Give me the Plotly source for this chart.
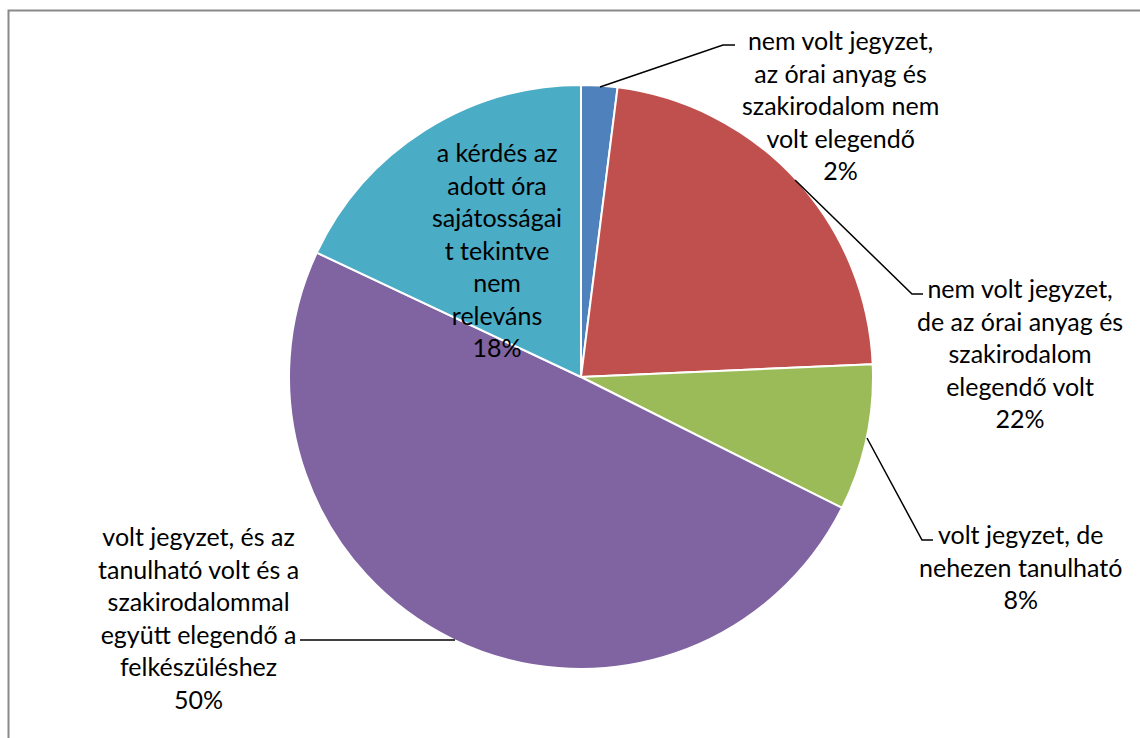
import plotly.graph_objects as go

W, H = 1140, 738

# Data
categories = [
    "nem volt jegyzet,<br>az órai anyag és<br>szakirodalom nem<br>volt elegendő",
    "nem volt jegyzet,<br>de az órai anyag és<br>szakirodalom<br>elegendő volt",
    "volt jegyzet, de<br>nehezen tanulható",
    "volt jegyzet, és az<br>tanulható volt és a<br>szakirodalommal<br>együtt elegendő a<br>felkészüléshez",
    "a kérdés az<br>adott óra<br>sajátosságai<br>t tekintve<br>nem<br>releváns",
]
values = [2.0, 22.3, 8.1, 49.6, 18.0]
colors = ["#4F81BD", "#C0504D", "#9BBB59", "#8064A2", "#4BACC6"]

# Label placement (pixel centers) and leader lines (pixel polylines)
label_pos = [(840, 105), (1020, 353), (1020, 566), (198, 617), (497, 250)]
leaders = [
    [(600, 87), (723, 45), (735, 45)],
    [(795, 180), (912, 294), (923, 294)],
    [(867, 438), (922, 540), (933, 540)],
    [(455, 640), (300, 640)],
    None,
]

cx, cy, r = 581, 377, 292

def px(x):
    return x / W

def py(y):
    return 1 - y / H

fig = go.Figure(
    go.Pie(
        labels=[c.replace("<br>", " ") for c in categories],
        values=values,
        sort=False,
        direction="clockwise",
        rotation=0,
        textinfo="none",
        hoverinfo="label+percent",
        marker=dict(colors=colors, line=dict(color="white", width=2)),
        domain=dict(x=[px(cx - r), px(cx + r)], y=[py(cy + r), py(cy - r)]),
        showlegend=False,
    )
)

total = sum(values)
font = dict(family="Lato, 'Open Sans', sans-serif", size=25, color="black")
annotations = []
for cat, v, (lx, ly) in zip(categories, values, label_pos):
    pct = round(v / total * 100)
    annotations.append(
        dict(
            text=f"{cat}<br>{pct}%",
            x=px(lx), y=py(ly), xref="paper", yref="paper",
            xanchor="center", yanchor="middle", align="center",
            showarrow=False, font=font,
        )
    )

shapes = []
for pts in leaders:
    if not pts:
        continue
    path = "M " + " L ".join(f"{px(x)} {py(y)}" for x, y in pts)
    shapes.append(dict(type="path", path=path, xref="paper", yref="paper",
                       line=dict(color="black", width=1.5)))

# chart area border
shapes.append(dict(type="rect", xref="paper", yref="paper",
                   x0=px(8.5), y0=py(745), x1=px(1150), y1=py(10.5),
                   line=dict(color="#898989", width=2), layer="below"))

fig.update_layout(
    width=W, height=H,
    margin=dict(l=0, r=0, t=0, b=0),
    paper_bgcolor="white", plot_bgcolor="white",
    annotations=annotations, shapes=shapes,
)

fig.write_html(
    "out.html",
    config={"displayModeBar": False},
    post_script="document.body.style.margin='0';document.body.style.overflow='hidden';",
)
